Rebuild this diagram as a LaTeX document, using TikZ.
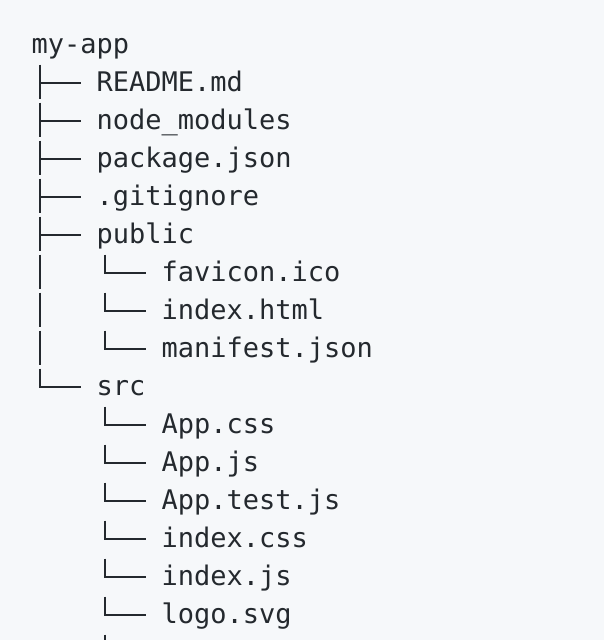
\documentclass[tikz,border=0pt]{standalone}
\usepackage{fontspec}
\usetikzlibrary{calc}
\newfontfamily\treefont{DejaVu Sans Mono}
\definecolor{paper}{HTML}{F6F8FA}
\definecolor{ink}{HTML}{24292E}

\begin{document}
\begin{tikzpicture}[x=1pt,y=-1pt,
    entry/.style={anchor=base west,inner sep=0pt,text=ink,
      font=\treefont\fontsize{27}{38}\selectfont},
    guide/.style={draw=ink,line width=2pt}]

  \fill[paper] (0,0) rectangle (604,640);
  \useasboundingbox (0,0) rectangle (604,640);

  \begin{scope}   % radky vypisu

    \def\Xa{31.5};   % koren
    \def\Xb{96.5};   % 1. uroven
    \def\Xc{161.5};  % 2. uroven
    \def\Yo{53.7};   % prvni radek
    \def\dy{38};

    \foreach \name/\col/\i/\txt in {
        myapp/\Xa/0/my-app,
        readme/\Xb/1/README.md,
        nodemods/\Xb/2/node\_modules,
        pkg/\Xb/3/package.json,
        gitignore/\Xb/4/.gitignore,
        public/\Xb/5/public,
        favicon/\Xc/6/favicon.ico,
        indexhtml/\Xc/7/index.html,
        manifest/\Xc/8/manifest.json,
        src/\Xb/9/src,
        appcss/\Xc/10/App.css,
        appjs/\Xc/11/App.js,
        apptest/\Xc/12/App.test.js,
        indexcss/\Xc/13/index.css,
        indexjs/\Xc/14/index.js,
        logo/\Xc/15/logo.svg}
      \node[entry] (\name) at (\col,\Yo+\i*\dy) {\txt};

  \end{scope}

  \begin{scope}   % vetve stromu

    \def\branchT#1{%  |--
      \draw[guide] ($(#1.base west)+(-57,-27)$) -- ($(#1.base west)+(-57,7.6)$);
      \draw[guide] ($(#1.base west)+(-57,-8.4)$) -- ($(#1.base west)+(-15.5,-8.4)$);}
    \def\branchL#1{%  `--
      \draw[guide] ($(#1.base west)+(-57,-27)$) |- ($(#1.base west)+(-15.5,-8.4)$);}
    \def\branchI#1{%  |
      \draw[guide] ($(#1.base west)+(-122,-27)$) -- ($(#1.base west)+(-122,7.6)$);}

    \branchT{readme}
    \branchT{nodemods}
    \branchT{pkg}
    \branchT{gitignore}
    \branchT{public}
    \branchL{favicon}  \branchI{favicon}
    \branchL{indexhtml}\branchI{indexhtml}
    \branchL{manifest} \branchI{manifest}
    \branchL{src}
    \branchL{appcss}
    \branchL{appjs}
    \branchL{apptest}
    \branchL{indexcss}
    \branchL{indexjs}
    \branchL{logo}

    % dalsi polozka, oriznuta okrajem
    \coordinate (more) at ($(logo.base west)+(-57,11)$);
    \draw[guide] (more) -- ($(more)+(0,20)$);

  \end{scope}

\end{tikzpicture}
\end{document}
